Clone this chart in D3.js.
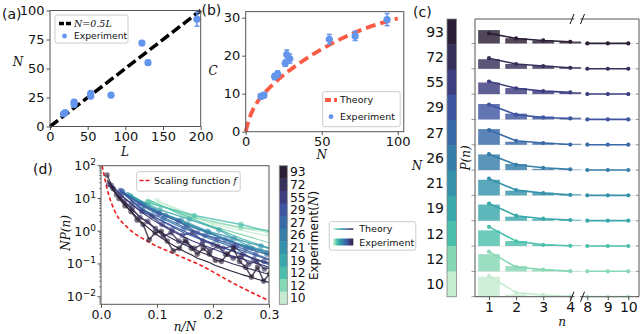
<!DOCTYPE html>
<html>
<head>
<meta charset="utf-8">
<script src="https://cdnjs.cloudflare.com/ajax/libs/d3/7.8.5/d3.min.js"></script>
<style>
  body { margin: 0; background: #fff; }
  text { font-family: "DejaVu Sans", sans-serif; fill: #111; }
  .math { font-family: "DejaVu Serif", serif; font-style: italic; }
</style>
</head>
<body>
<script>
// ---- data ----
// (a) N vs L
var aL   = [18, 20, 32, 32, 54, 54, 81, 122, 130, 195];
var aN   = [11, 12, 21, 19, 28.5, 26, 27, 72, 55, 92.5];
var aErr = [1.2, 1, 1.5, 1.5, 1.5, 1.5, 1, 2, 2, 6];
var aLine = [0, 200]; // N = 0.5 L

// (b) C vs N
var bN   = [10, 12, 19, 21, 26, 27, 29, 55, 72, 93];
var bC   = [9.3, 9.6, 14.5, 15.2, 18, 20.3, 19.2, 24.3, 25.2, 29.5];
var bErr = [0.7, 0.7, 0.8, 0.8, 0.8, 1.2, 1.2, 1.3, 1.2, 1.6];
var theoryN = [0, 2, 7, 12, 20, 36, 53, 73, 100];
var theoryC = [0, 3, 7.4, 10, 13.2, 18.2, 22.4, 26.3, 29.8];

// (c) one row per experiment
var rowN = [93, 72, 55, 29, 27, 26, 21, 19, 12, 12, 10];
var rowColors = ["#2a1f35", "#37305a", "#3d3d7f", "#3f55a1", "#3969a7", "#377ea9",
                 "#3692ab", "#3aa7ab", "#4cbfac", "#86d7b3", "#c5ecd0"];
var nLeft  = [1, 2, 3, 4];
var nRight = [8, 9, 10];
var barP = [
  [0.53, 0.21, 0.12, 0.08],
  [0.38, 0.19, 0.12, 0.07],
  [0.46, 0.24, 0.13, 0.08],
  [0.61, 0.23, 0.12, 0.07],
  [0.62, 0.12, 0.08, 0.04],
  [0.62, 0.24, 0.05, 0.02],
  [0.62, 0.19, 0.11, 0.05],
  [0.64, 0.16, 0.08, 0.04],
  [0.62, 0.20, 0.07, 0.03],
  [0.68, 0.21, 0.07, 0.02],
  [0.79, 0.09, 0.04, 0.00]
];
var lineP = [
  [0.40, 0.20, 0.12, 0.07],
  [0.42, 0.19, 0.11, 0.04],
  [0.50, 0.23, 0.12, 0.07],
  [0.59, 0.19, 0.08, 0.04],
  [0.58, 0.16, 0.07, 0.01],
  [0.63, 0.21, 0.09, 0.03],
  [0.66, 0.21, 0.09, 0.02],
  [0.68, 0.20, 0.08, 0.03],
  [0.76, 0.19, 0.05, 0.01],
  [0.78, 0.17, 0.07, 0.01],
  [0.82, 0.16, 0.07, 0.02]
];
var tailP = [0.003, 0.003, 0.003];

// (d) N P(n) against n/N, experiment and theory, same row order as (c)
var expNP = [
  [52, 20, 10, 6, 4, 2.2, 1.6, 0.55, 0.9, 1.0, 0.5, 0.25, 0.3, 0.55, 0.3, 0.2, 0.3, 0.2, 0.13, 0.12, 0.2, 0.3, 0.12, 0.08, 0.04, 0.08, 0.03, 0.05],
  [27, 13, 8, 5, 2.6, 2, 1.2, 0.7, 0.9, 0.5, 0.45, 0.3, 0.4, 0.25, 0.35, 0.2, 0.15, 0.17, 0.1, 0.12, 0.07, 0.08],
  [25, 12, 7, 4, 2.8, 1.6, 1.1, 0.75, 0.9, 0.5, 0.4, 0.3, 0.35, 0.2, 0.14, 0.12, 0.1],
  [17.4, 6.8, 3.5, 2.0, 0.9, 0.55, 0.35, 0.2, 0.12, 0.09],
  [16.7, 4.5, 2.4, 1.2, 0.75, 0.55, 0.3, 0.2, 0.14],
  [16, 6.2, 3, 1.5, 0.9, 0.5, 0.3, 0.22, 0.13],
  [13, 4.2, 2.2, 1.0, 0.6, 0.35, 0.2],
  [12, 4.5, 2.3, 1.1, 0.35, 0.2],
  [7.4, 3.0, 1.6, 0.7],
  [8.2, 2.6, 1.3, 0.9],
  [8.6, 1.8, 0.9, 0.5]
];
var theoryNP = [
  [37, 18.6, 11, 6.5, 4, 2.6, 1.7, 1.2, 0.85, 0.63, 0.48, 0.37, 0.29, 0.23, 0.19, 0.15, 0.13, 0.11, 0.09, 0.078, 0.067, 0.058, 0.05, 0.044, 0.039, 0.034, 0.03, 0.027],
  [30, 13.7, 7.9, 4.5, 2.8, 1.8, 1.2, 0.85, 0.62, 0.47, 0.36, 0.28, 0.22, 0.18, 0.15, 0.12, 0.1, 0.085, 0.072, 0.062, 0.053, 0.046],
  [27, 12.5, 6.6, 3.8, 2.3, 1.5, 1.0, 0.7, 0.5, 0.38, 0.29, 0.22, 0.17, 0.14, 0.11, 0.09, 0.07],
  [17, 5.5, 2.3, 1.2, 0.65, 0.38, 0.22, 0.14, 0.09, 0.06],
  [15.7, 4.3, 1.9, 0.9, 0.5, 0.3, 0.18, 0.1, 0.07],
  [16.5, 5.5, 2.5, 1.2, 0.6, 0.35, 0.2, 0.12, 0.08],
  [14, 4.4, 1.9, 0.9, 0.45, 0.25, 0.12],
  [13, 3.8, 1.6, 0.7, 0.3, 0.15],
  [9.1, 2.3, 0.6, 0.2],
  [9.4, 2.0, 0.8, 0.3],
  [8.2, 1.6, 0.7, 0.2]
];
var scaleX = [0.002, 0.013, 0.025, 0.049, 0.084, 0.132, 0.177, 0.236, 0.3];
var scaleY = [100, 14.4, 4, 1.23, 0.48, 0.2, 0.093, 0.026, 0.0075];

var blue = "#6495ed";
var spine = "#555";

var svg = d3.select("body").append("svg")
    .attr("width", 640).attr("height", 334);
var defs = svg.append("defs");

function box(x0, y0, x1, y1) {
  svg.append("rect").attr("x", x0).attr("y", y0)
    .attr("width", x1 - x0).attr("height", y1 - y0)
    .attr("fill", "none").attr("stroke", spine).attr("stroke-width", 1);
}
function styleAxis(g) {
  g.select(".domain").remove();
  g.selectAll("line").attr("stroke", spine);
  g.selectAll("text").attr("font-size", 13).attr("fill", "#111")
    .attr("font-family", "DejaVu Sans");
}

// =================== (a) ===================
var xA = d3.scaleLinear().domain([0, 200]).range([50, 200.7]);
var yA = d3.scaleLinear().domain([0, 100]).range([126.5, 10.5]);

svg.append("g").attr("transform", "translate(0," + yA(0) + ")")
  .call(d3.axisBottom(xA).tickValues([0, 50, 100, 150, 200]).tickFormat(d3.format("d")).tickSize(3.5).tickPadding(2))
  .call(styleAxis);
svg.append("g").attr("transform", "translate(" + xA(0) + ",0)")
  .call(d3.axisLeft(yA).tickValues([0, 25, 50, 75, 100]).tickFormat(d3.format("d")).tickSize(3.5).tickPadding(2))
  .call(styleAxis);

svg.append("line")
  .attr("x1", xA(aLine[0])).attr("y1", yA(aLine[0] * 0.5))
  .attr("x2", xA(aLine[1])).attr("y2", yA(aLine[1] * 0.5))
  .attr("stroke", "#000").attr("stroke-width", 3.5).attr("stroke-dasharray", "10,4");

var ga = svg.append("g");
aL.forEach(function(l, i) {
  ga.append("line").attr("x1", xA(l)).attr("x2", xA(l))
    .attr("y1", yA(aN[i] - aErr[i])).attr("y2", yA(aN[i] + aErr[i]))
    .attr("stroke", blue).attr("stroke-width", 1.5);
  [aN[i] - aErr[i], aN[i] + aErr[i]].forEach(function(v) {
    ga.append("line").attr("x1", xA(l) - 2.5).attr("x2", xA(l) + 2.5)
      .attr("y1", yA(v)).attr("y2", yA(v)).attr("stroke", blue).attr("stroke-width", 1.5);
  });
  ga.append("circle").attr("cx", xA(l)).attr("cy", yA(aN[i])).attr("r", 3.6).attr("fill", blue);
});
box(xA(0), yA(100), xA(200), yA(0));

// legend (a)
svg.append("rect").attr("x", 55).attr("y", 15).attr("width", 73).attr("height", 28)
  .attr("rx", 2).attr("fill", "#fff").attr("fill-opacity", 0.85).attr("stroke", "#ccc");
svg.append("line").attr("x1", 59).attr("x2", 71).attr("y1", 23.5).attr("y2", 23.5)
  .attr("stroke", "#000").attr("stroke-width", 3.5).attr("stroke-dasharray", "5,2");
svg.append("text").attr("class", "math").attr("x", 74).attr("y", 26.5).attr("font-size", 9.5)
  .text("N=0.5L");
svg.append("circle").attr("cx", 64.5).attr("cy", 36).attr("r", 2.4).attr("fill", blue);
svg.append("text").attr("x", 74).attr("y", 39.3).attr("font-size", 9.2).text("Experiment");

svg.append("text").attr("x", 2).attr("y", 19).attr("font-size", 14).text("(a)");
svg.append("text").attr("class", "math").attr("x", 18).attr("y", 66).attr("font-size", 12)
  .attr("text-anchor", "middle").text("N");
svg.append("text").attr("class", "math").attr("x", 125).attr("y", 156).attr("font-size", 12)
  .attr("text-anchor", "middle").text("L");

// =================== (b) ===================
var xB = d3.scaleLinear().domain([0, 104]).range([245.7, 403.8]);
var yB = d3.scaleLinear().domain([0, 31.6]).range([131.7, 11.6]);

svg.append("g").attr("transform", "translate(0," + yB(0) + ")")
  .call(d3.axisBottom(xB).tickValues([0, 50, 100]).tickFormat(d3.format("d")).tickSize(3.5).tickPadding(2))
  .call(styleAxis);
svg.append("g").attr("transform", "translate(" + xB(0) + ",0)")
  .call(d3.axisLeft(yB).tickValues([0, 10, 20, 30]).tickFormat(d3.format("d")).tickSize(3.5).tickPadding(2))
  .call(styleAxis);

var theoryLine = d3.line()
  .x(function(d) { return xB(d[0]); })
  .y(function(d) { return yB(d[1]); })
  .curve(d3.curveMonotoneX);
svg.append("path").datum(d3.zip(theoryN, theoryC)).attr("d", theoryLine)
  .attr("fill", "none").attr("stroke", "#fb5b44").attr("stroke-width", 3.8)
  .attr("stroke-dasharray", "10,5");

var gb = svg.append("g");
bN.forEach(function(n, i) {
  gb.append("line").attr("x1", xB(n)).attr("x2", xB(n))
    .attr("y1", yB(bC[i] - bErr[i])).attr("y2", yB(bC[i] + bErr[i]))
    .attr("stroke", blue).attr("stroke-width", 1.5);
  [bC[i] - bErr[i], bC[i] + bErr[i]].forEach(function(v) {
    gb.append("line").attr("x1", xB(n) - 2.5).attr("x2", xB(n) + 2.5)
      .attr("y1", yB(v)).attr("y2", yB(v)).attr("stroke", blue).attr("stroke-width", 1.5);
  });
  gb.append("circle").attr("cx", xB(n)).attr("cy", yB(bC[i])).attr("r", 3.6).attr("fill", blue);
});
box(xB(0), yB(31.6), xB(104), yB(0));

svg.append("rect").attr("x", 322.7).attr("y", 91.7).attr("width", 77.5).attr("height", 35)
  .attr("rx", 2).attr("fill", "#fff").attr("fill-opacity", 0.85).attr("stroke", "#ccc");
svg.append("line").attr("x1", 325).attr("x2", 337).attr("y1", 100).attr("y2", 100)
  .attr("stroke", "#fb5b44").attr("stroke-width", 3.8).attr("stroke-dasharray", "6,3");
svg.append("text").attr("x", 340).attr("y", 103.3).attr("font-size", 9.5).text("Theory");
svg.append("circle").attr("cx", 331).attr("cy", 116.7).attr("r", 2.4).attr("fill", blue);
svg.append("text").attr("x", 340).attr("y", 120).attr("font-size", 9.5).text("Experiment");

svg.append("text").attr("x", 201.5).attr("y", 15).attr("font-size", 14).text("(b)");
svg.append("text").attr("class", "math").attr("x", 213).attr("y", 75).attr("font-size", 12)
  .attr("text-anchor", "middle").text("C");
svg.append("text").attr("class", "math").attr("x", 321.7).attr("y", 159).attr("font-size", 12)
  .attr("text-anchor", "middle").text("N");

// =================== (c) ===================
var cTop = 19, cBot = 296.7, cLeft = 475, cRight = 639;
var rowBase = d3.scaleLinear().domain([0, 10]).range([43.5, 296.7]);
var pH = d3.scaleLinear().domain([0, 1]).range([0, 25.3]);
var xL = d3.scaleLinear().domain([1, 4]).range([489, 570.3]);
var xR = d3.scaleLinear().domain([8, 10]).range([587.3, 628.3]);
var barW = (xL(2) - xL(1)) * 0.8;

// colour bar (c)
var cbC = d3.scaleBand().domain(d3.range(rowN.length)).range([cTop, cBot]);
svg.append("g").selectAll("rect").data(rowN).join("rect")
  .attr("x", 447).attr("width", 9.5)
  .attr("y", function(d, i) { return cbC(i); }).attr("height", cbC.bandwidth() + 0.5)
  .attr("fill", function(d, i) { return rowColors[i]; });
svg.append("rect").attr("x", 447).attr("y", cTop).attr("width", 9.5).attr("height", cBot - cTop)
  .attr("fill", "none").attr("stroke", "#888").attr("stroke-width", 0.8);
svg.append("g").selectAll("text").data(rowN).join("text")
  .attr("x", 444).attr("y", function(d, i) { return cbC(i) + cbC.bandwidth() / 2 + 5; })
  .attr("text-anchor", "end").attr("font-size", 14).text(function(d) { return d; });
svg.append("text").attr("class", "math").attr("x", 417).attr("y", 170).attr("font-size", 12)
  .attr("text-anchor", "middle").text("N");

var gc = svg.append("g");
rowN.forEach(function(N, r) {
  var base = rowBase(r);
  var col = rowColors[r];
  gc.append("line").attr("x1", cLeft).attr("x2", cRight).attr("y1", base).attr("y2", base)
    .attr("stroke", "#e4e4e4").attr("stroke-width", 0.8);
  gc.append("line").attr("x1", cLeft - 3.5).attr("x2", cLeft).attr("y1", base).attr("y2", base)
    .attr("stroke", "#999");
  gc.append("line").attr("x1", cRight - 3).attr("x2", cRight).attr("y1", base).attr("y2", base)
    .attr("stroke", "#999");
  gc.selectAll(null).data(nLeft).join("rect")
    .attr("x", function(n) { return xL(n) - barW / 2; }).attr("width", barW)
    .attr("y", function(n, i) { return base - pH(barP[r][i]); })
    .attr("height", function(n, i) { return pH(barP[r][i]); })
    .attr("fill", col).attr("fill-opacity", 0.82);
  var lineL = d3.line().x(function(d) { return xL(d[0]); }).y(function(d) { return base - pH(d[1]); });
  var lineR = d3.line().x(function(d) { return xR(d[0]); }).y(function(d) { return base - pH(d[1]); });
  var ptsL = d3.zip(nLeft, lineP[r]);
  var ptsR = d3.zip(nRight, tailP);
  [[ptsL, lineL, xL], [ptsR, lineR, xR]].forEach(function(s) {
    gc.append("path").datum(s[0]).attr("d", s[1]).attr("fill", "none")
      .attr("stroke", col).attr("stroke-width", 1.6);
    gc.selectAll(null).data(s[0]).join("circle")
      .attr("cx", function(d) { return s[2](d[0]); })
      .attr("cy", function(d) { return base - pH(d[1]); })
      .attr("r", 2.1).attr("fill", col);
  });
});

// broken axis frame
[[cLeft, 574.5], [580, cRight]].forEach(function(seg) {
  [cTop, cBot].forEach(function(y) {
    svg.append("line").attr("x1", seg[0]).attr("x2", seg[1]).attr("y1", y).attr("y2", y)
      .attr("stroke", spine);
  });
});
svg.append("line").attr("x1", cLeft).attr("x2", cLeft).attr("y1", cTop).attr("y2", cBot).attr("stroke", spine);
svg.append("line").attr("x1", cRight).attr("x2", cRight).attr("y1", cTop).attr("y2", cBot).attr("stroke", spine);
[572, 582.5].forEach(function(x) {
  [cTop, cBot].forEach(function(y) {
    svg.append("line").attr("x1", x - 2).attr("x2", x + 2).attr("y1", y + 5).attr("y2", y - 5)
      .attr("stroke", "#111").attr("stroke-width", 1);
  });
});
svg.append("g").attr("transform", "translate(0," + cBot + ")")
  .call(d3.axisBottom(xL).tickValues(nLeft).tickFormat(d3.format("d")).tickSize(3.5).tickPadding(2))
  .call(styleAxis).selectAll("text").attr("font-size", 14);
svg.append("g").attr("transform", "translate(0," + cBot + ")")
  .call(d3.axisBottom(xR).tickValues(nRight).tickFormat(d3.format("d")).tickSize(3.5).tickPadding(2))
  .call(styleAxis).selectAll("text").attr("font-size", 14);

svg.append("text").attr("x", 413).attr("y", 16.5).attr("font-size", 14).text("(c)");
svg.append("text").attr("class", "math").attr("font-size", 12)
  .attr("transform", "translate(470,158) rotate(-90)").attr("text-anchor", "middle").text("P(n)");
svg.append("text").attr("class", "math").attr("x", 562).attr("y", 326).attr("font-size", 12)
  .attr("text-anchor", "middle").text("n");

// =================== (d) ===================
var xD = d3.scaleLinear().domain([0, 0.3]).range([101, 269]);
var yD = d3.scaleLog().domain([Math.pow(10, -2.232), 100]).range([304.3, 165.7]);

defs.append("clipPath").attr("id", "clipD").append("rect")
  .attr("x", xD(0)).attr("y", yD(100)).attr("width", xD(0.3) - xD(0)).attr("height", 304.3 - 165.7);

svg.append("g").attr("transform", "translate(0,304.3)")
  .call(d3.axisBottom(xD).tickValues([0, 0.1, 0.2, 0.3]).tickFormat(d3.format(".1f")).tickSize(3.5).tickPadding(2))
  .call(styleAxis).selectAll("text").attr("font-size", 12.5);

// log y axis: majors with superscript labels and minors
var yMajors = [-2, -1, 0, 1, 2];
var gy = svg.append("g");
yMajors.forEach(function(p) {
  var y = yD(Math.pow(10, p));
  gy.append("line").attr("x1", 97.5).attr("x2", 101).attr("y1", y).attr("y2", y).attr("stroke", spine);
  var t = gy.append("text").attr("x", 96).attr("y", y + 4.5).attr("text-anchor", "end").attr("font-size", 12.5);
  t.append("tspan").text("10");
  t.append("tspan").attr("dy", -5).attr("font-size", 9).text(p < 0 ? "\u2212" + (-p) : p);
  for (var k = 2; k < 10; k++) {
    var v = k * Math.pow(10, p - 1);
    if (v > yD.domain()[0] && v < 100) {
      gy.append("line").attr("x1", 99).attr("x2", 101).attr("y1", yD(v)).attr("y2", yD(v))
        .attr("stroke", spine).attr("stroke-width", 0.7);
    }
  }
});

var gd = svg.append("g").attr("clip-path", "url(#clipD)");
var lineD = d3.line().x(function(d) { return xD(d[0]); }).y(function(d) { return yD(d[1]); });

gd.append("path")
  .datum(d3.zip(scaleX, scaleY))
  .attr("d", lineD.curve(d3.curveMonotoneX))
  .attr("fill", "none").attr("stroke", "#ee1c1c").attr("stroke-width", 1.6)
  .attr("stroke-dasharray", "4,2.5");
lineD.curve(d3.curveLinear);

function seriesPts(vals, N) {
  return vals.map(function(v, i) { return [(i + 1) / N, v]; });
}
// theory lines, light first
for (var r = rowN.length - 1; r >= 0; r--) {
  gd.append("path").datum(seriesPts(theoryNP[r], rowN[r])).attr("d", lineD)
    .attr("fill", "none").attr("stroke", rowColors[r]).attr("stroke-width", 1.1);
}
// experiments
for (var r = rowN.length - 1; r >= 0; r--) {
  var pts = seriesPts(expNP[r], rowN[r]);
  gd.append("path").datum(pts).attr("d", lineD)
    .attr("fill", "none").attr("stroke", rowColors[r]).attr("stroke-width", 1.5)
    .attr("stroke-opacity", 0.8);
  gd.selectAll(null).data(pts).join("circle")
    .attr("cx", function(d) { return xD(d[0]); })
    .attr("cy", function(d) { return yD(d[1]); })
    .attr("r", 2.8).attr("fill", rowColors[r]).attr("fill-opacity", 0.6);
}
box(xD(0), yD(100), xD(0.3), 304.3);

// legend: scaling function
svg.append("rect").attr("x", 136.7).attr("y", 171.7).attr("width", 103.5).attr("height", 19.5)
  .attr("rx", 2).attr("fill", "#fff").attr("fill-opacity", 0.85).attr("stroke", "#ccc");
svg.append("line").attr("x1", 139.5).attr("x2", 151.5).attr("y1", 180.5).attr("y2", 180.5)
  .attr("stroke", "#ee1c1c").attr("stroke-width", 1.6).attr("stroke-dasharray", "4,2");
var sf = svg.append("text").attr("x", 154).attr("y", 184).attr("font-size", 9.5);
sf.append("tspan").text("Scaling function ");
sf.append("tspan").attr("class", "math").text("f");

// colour bar (d)
var cbD = d3.scaleBand().domain(d3.range(rowN.length)).range([165.7, 304.3]);
svg.append("g").selectAll("rect").data(rowN).join("rect")
  .attr("x", 279.3).attr("width", 8)
  .attr("y", function(d, i) { return cbD(i); }).attr("height", cbD.bandwidth() + 0.5)
  .attr("fill", function(d, i) { return rowColors[i]; });
svg.append("rect").attr("x", 279.3).attr("y", 165.7).attr("width", 8).attr("height", 304.3 - 165.7)
  .attr("fill", "none").attr("stroke", "#888").attr("stroke-width", 0.8);
svg.append("g").selectAll("text").data(rowN).join("text")
  .attr("x", 290).attr("y", function(d, i) { return cbD(i) + cbD.bandwidth() / 2 + 4.4; })
  .attr("font-size", 12.3).text(function(d) { return d; });
var et = svg.append("text").attr("font-size", 12)
  .attr("transform", "translate(318,235.5) rotate(-90)").attr("text-anchor", "middle");
et.append("tspan").text("Experiment(");
et.append("tspan").attr("class", "math").text("N");
et.append("tspan").text(")");

// legend: theory / experiment with gradients
var grad = defs.append("linearGradient").attr("id", "legGrad");
rowColors.slice().reverse().forEach(function(c, i) {
  grad.append("stop").attr("offset", (i / (rowColors.length - 1) * 100) + "%").attr("stop-color", c);
});
svg.append("rect").attr("x", 329.3).attr("y", 221.7).attr("width", 86.5).attr("height", 28.5)
  .attr("rx", 2).attr("fill", "#fff").attr("stroke", "#ccc");
svg.append("rect").attr("x", 333.3).attr("y", 228.3).attr("width", 20).attr("height", 1.5)
  .attr("fill", "url(#legGrad)");
svg.append("rect").attr("x", 333.3).attr("y", 238.5).attr("width", 20).attr("height", 7)
  .attr("fill", "url(#legGrad)");
svg.append("text").attr("x", 359.3).attr("y", 232.3).attr("font-size", 9.5).text("Theory");
svg.append("text").attr("x", 359.3).attr("y", 245.5).attr("font-size", 9.5).text("Experiment");

svg.append("text").attr("x", 33).attr("y", 174).attr("font-size", 14).text("(d)");
svg.append("text").attr("class", "math").attr("font-size", 12)
  .attr("transform", "translate(70,233) rotate(-90)").attr("text-anchor", "middle").text("NP(n)");
svg.append("text").attr("class", "math").attr("x", 185).attr("y", 331).attr("font-size", 12)
  .attr("text-anchor", "middle").text("n/N");
</script>
</body>
</html>
